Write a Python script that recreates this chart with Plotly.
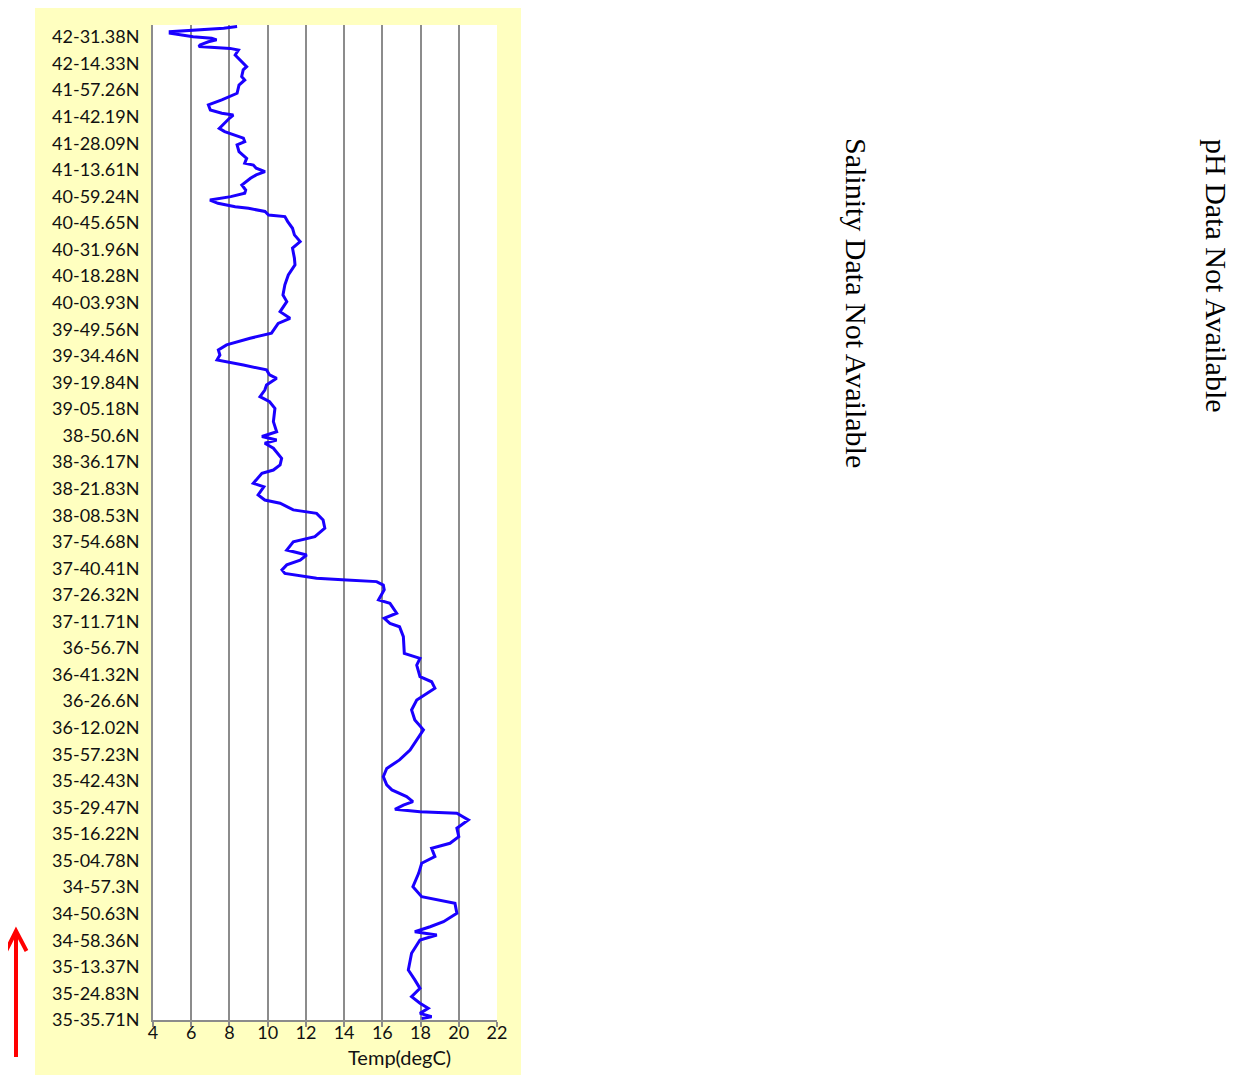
import plotly.graph_objects as go

# Latitude labels along the track (bottom to top)
lat_labels = [
    "35-35.71N", "35-24.83N", "35-13.37N", "34-58.36N", "34-50.63N", "34-57.3N",
    "35-04.78N", "35-16.22N", "35-29.47N", "35-42.43N", "35-57.23N", "36-12.02N",
    "36-26.6N", "36-41.32N", "36-56.7N", "37-11.71N", "37-26.32N", "37-40.41N",
    "37-54.68N", "38-08.53N", "38-21.83N", "38-36.17N", "38-50.6N", "39-05.18N",
    "39-19.84N", "39-34.46N", "39-49.56N", "40-03.93N", "40-18.28N", "40-31.96N",
    "40-45.65N", "40-59.24N", "41-13.61N", "41-28.09N", "41-42.19N", "41-57.26N",
    "42-14.33N", "42-31.38N",
]

# Sample position along the track (in label steps) and temperature (degC)
track_pos = [
    37.39, 37.33, 37.20, 37.14, 37.01, 36.95, 36.89, 36.82, 36.70, 36.64,
    36.57, 36.51, 36.32, 36.07, 35.88, 35.76, 35.51, 35.38, 35.19, 34.88,
    34.75, 34.63, 34.44, 34.25, 34.13, 34.06, 33.94, 33.75, 33.56, 33.44,
    33.31, 33.19, 33.06, 32.94, 32.68, 32.43, 32.25, 32.18, 32.06, 31.93,
    31.81, 31.68, 31.43, 31.24, 31.12, 30.99, 30.86, 30.74, 30.61, 30.55,
    30.43, 30.30, 30.24, 30.05, 29.80, 29.55, 29.30, 29.05, 28.67, 28.42,
    28.04, 27.67, 27.29, 27.04, 26.66, 26.41, 26.22, 25.85, 25.66, 25.41,
    25.22, 25.03, 24.84, 24.76, 24.65, 24.47, 24.28, 24.15, 23.90, 23.71,
    23.46, 23.27, 23.02, 22.52, 22.14, 21.96, 21.83, 21.71, 21.52, 21.14,
    20.89, 20.70, 20.58, 20.20, 20.07, 19.76, 19.57, 19.45, 19.20, 19.07,
    18.82, 18.51, 18.19, 18.00, 17.69, 17.50, 17.31, 17.13, 16.94, 16.81,
    16.63, 16.56, 16.50, 16.37, 16.19, 15.81, 15.68, 15.31, 15.12, 14.93,
    14.80, 14.43, 13.80, 13.61, 13.36, 12.92, 12.73, 12.49, 12.04, 11.67,
    11.29, 10.92, 10.54, 10.16, 9.79, 9.47, 9.16, 8.85, 8.66, 8.41,
    8.22, 8.09, 7.93, 7.84, 7.78, 7.53, 7.22, 6.90, 6.65, 6.46,
    6.15, 5.90, 5.52, 5.02, 4.64, 4.39, 4.02, 3.70, 3.51, 3.32,
    3.20, 3.01, 2.51, 1.88, 1.51, 1.19, 0.88, 0.63, 0.44, 0.25,
    0.12, 0.06,
]
temp_degc = [
    8.4, 7.7, 4.9, 4.9, 6.1, 7.07, 7.33, 6.9, 6.46, 6.4,
    8.03, 8.47, 8.3, 8.64, 8.9, 8.72, 8.64, 8.8, 8.5, 8.4,
    8.0, 7.6, 6.9, 7.0, 7.6, 8.2, 8.0, 7.75, 7.47, 7.75,
    8.25, 8.73, 8.8, 8.4, 8.5, 8.9, 8.8, 9.25, 9.4, 9.86,
    9.4, 9.1, 8.65, 8.85, 8.8, 8.07, 6.98, 7.4, 8.3, 9.0,
    9.86, 10.05, 10.9, 11.05, 11.3, 11.4, 11.7, 11.3, 11.4, 11.43,
    11.08, 10.9, 10.8, 11.0, 10.65, 11.17, 10.55, 10.2, 9.08, 7.85,
    7.42, 7.5, 7.35, 8.0, 8.73, 9.94, 10.1, 10.47, 9.94, 9.85,
    9.6, 10.1, 10.38, 10.3, 10.47, 9.7, 10.47, 9.85, 10.3, 10.73,
    10.65, 10.3, 9.7, 9.25, 9.8, 9.5, 9.85, 10.65, 11.34, 12.56,
    12.9, 12.99, 12.47, 11.34, 11.0, 12.04, 11.7, 11.0, 10.75, 10.9,
    12.56, 14.13, 15.7, 16.05, 16.1, 15.8, 16.4, 16.75, 16.1, 16.4,
    16.9, 17.1, 17.15, 17.97, 17.8, 17.97, 18.58, 18.75, 17.8, 17.53,
    17.7, 18.15, 17.8, 17.45, 16.9, 16.23, 16.05, 16.23, 16.5, 17.27,
    17.6, 17.1, 16.66, 17.97, 19.9, 20.5, 19.9, 20.0, 19.54, 18.58,
    18.75, 18.06, 17.9, 17.6, 18.06, 19.8, 19.9, 19.2, 18.5, 17.7,
    18.85, 17.97, 17.53, 17.36, 17.7, 17.97, 17.53, 17.97, 18.4, 17.97,
    18.58, 18.06,
]

x_ticks = [4, 6, 8, 10, 12, 14, 16, 18, 20, 22]
x_title = "Temp(degC)"
side_notes = ["Salinity Data Not Available", "pH Data Not Available"]

# the page places the figure 8px in from the top-left corner
OFF = 8
W, H = 1241 - OFF, 1075 - OFF
L, R, T, B = 153 - OFF, 497 - OFF, 25 - OFF, 1020 - OFF
pw, ph = R - L, B - T


def px(xp):
    return (xp - OFF - L) / pw


def py(yp):
    return (B - (yp - OFF)) / ph


fig = go.Figure()
fig.add_trace(go.Scatter(
    x=temp_degc, y=track_pos, mode="lines",
    line=dict(color="#1a00ff", width=3),
    showlegend=False, hoverinfo="skip",
))

grid = "#8c8c8c"
fig.update_layout(
    width=W, height=H,
    margin=dict(l=L, r=W - R, t=T, b=H - B, pad=0),
    paper_bgcolor="white", plot_bgcolor="rgba(0,0,0,0)",
    font=dict(family="Lato, Open Sans, sans-serif", size=18, color="#111111"),
    xaxis=dict(
        range=[4, 22], tickvals=x_ticks, ticktext=[str(v) for v in x_ticks],
        showgrid=True, gridcolor=grid, gridwidth=2, zeroline=False,
        showline=True, linecolor=grid, linewidth=2,
        ticks="outside", ticklen=5, tickcolor=grid, tickwidth=2,
        tickfont=dict(size=18), ticklabelstandoff=-10,
    ),
    yaxis=dict(
        range=[0, 37.45], tickvals=list(range(len(lat_labels))), ticktext=lat_labels,
        showgrid=False, zeroline=False, showline=True, linecolor=grid, linewidth=2,
        ticks="", ticklabelstandoff=8, tickfont=dict(size=18),
    ),
    shapes=[
        dict(type="rect", xref="paper", yref="paper", layer="below",
             x0=px(35), x1=px(521), y0=py(1075), y1=py(3),
             fillcolor="#ffffc0", line=dict(width=0)),
        dict(type="rect", xref="paper", yref="paper", layer="below",
             x0=0, x1=1, y0=0, y1=1, fillcolor="white", line=dict(width=0)),
        dict(type="line", xref="paper", yref="paper",
             x0=px(16), x1=px(16), y0=py(1057), y1=py(932),
             line=dict(color="#ff0000", width=4)),
        dict(type="path", xref="paper", yref="paper",
             path="M {} {} L {} {} L {} {}".format(px(6), py(951), px(16), py(931), px(26.5), py(951)),
             line=dict(color="#ff0000", width=4)),
    ],
    annotations=[
        dict(text=x_title, xref="paper", yref="paper", x=px(399), y=py(1057),
             showarrow=False, xanchor="center", yanchor="middle", font=dict(size=20)),
        dict(text=side_notes[0], xref="paper", yref="paper", x=px(857), y=py(303),
             showarrow=False, textangle=90, xanchor="center", yanchor="middle",
             font=dict(family="Liberation Serif, Times New Roman, serif", size=30, color="#000000")),
        dict(text=side_notes[1], xref="paper", yref="paper", x=px(1217), y=py(276),
             showarrow=False, textangle=90, xanchor="center", yanchor="middle",
             font=dict(family="Liberation Serif, Times New Roman, serif", size=30, color="#000000")),
    ],
)

fig.write_html("out.html")
